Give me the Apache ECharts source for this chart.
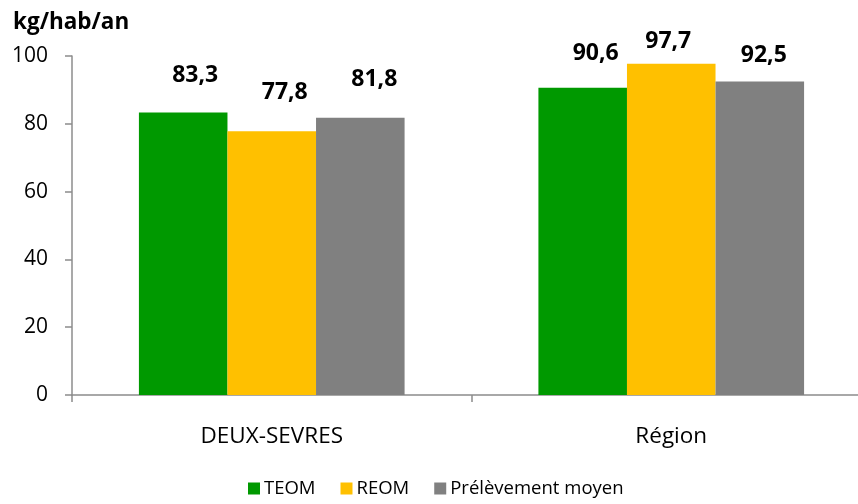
<!DOCTYPE html>
<html>
<head>
<meta charset="utf-8">
<script src="https://cdn.jsdelivr.net/npm/echarts@6/dist/echarts.min.js"></script>
<style>
  html, body { margin: 0; padding: 0; background: #fff; }
  #chart { width: 858px; height: 504px; }
</style>
</head>
<body>
<div id="chart"></div>
<script>
// Collection rate (kg per inhabitant per year) by funding mode
const categories = ['DEUX-SEVRES', 'Région'];
const seriesNames = ['TEOM', 'REOM', 'Prélèvement moyen'];
const teom = [83.3, 90.6];
const reom = [77.8, 97.7];
const prelevementMoyen = [81.8, 92.5];
const yTicks = [0, 20, 40, 60, 80, 100];

const colors = ['#009900', '#FFC000', '#808080'];
// value-label placement relative to the bar top: [dx, gap], per series / per category
const labelPlacement = [
  [[12, 26], [13, 23]],
  [[13, 27], [-3, 11]],
  [[14, 27], [4, 14]]
];

const FONT = '"Open Sans", "Noto Sans", sans-serif';
const fmt = v => v.toFixed(1).replace('.', ',');

function buildSeries(name, values, idx) {
  return {
    name: name,
    type: 'bar',
    barGap: '0%',
    barCategoryGap: '33.5%',
    itemStyle: { color: colors[idx] },
    data: values.map((v, i) => ({
      value: v,
      label: {
        show: true,
        position: 'top',
        distance: labelPlacement[idx][i][1],
        offset: [labelPlacement[idx][i][0], 0],
        formatter: p => fmt(p.value),
        fontFamily: FONT,
        fontWeight: 'bold',
        fontSize: 23,
        color: '#000'
      }
    }))
  };
}

const chart = echarts.init(document.getElementById('chart'), null, { renderer: 'canvas' });
chart.setOption({
  animation: false,
  backgroundColor: '#fff',
  title: {
    text: 'kg/hab/an',
    left: 8,
    top: 6,
    textStyle: { fontFamily: FONT, fontWeight: 'bold', fontSize: 22.5, color: '#000' }
  },
  legend: {
    bottom: 1,
    left: 243,
    itemWidth: 12,
    itemHeight: 12,
    itemGap: 25,
    icon: 'rect',
    data: seriesNames,
    textStyle: { fontFamily: FONT, fontSize: 18.5, color: '#000', padding: [0, 0, 0, -1] }
  },
  // the plot area runs past the right edge of the canvas, so the last category boundary is clipped
  grid: { left: 72, width: 799, top: 56, bottom: 109, outerBoundsMode: 'none', containLabel: false },
  xAxis: {
    type: 'category',
    data: categories,
    axisLine: { lineStyle: { color: '#8c8c8c', width: 1.5 } },
    axisTick: { show: true, length: 7, lineStyle: { color: '#8c8c8c', width: 1.5 } },
    axisLabel: { fontFamily: FONT, fontSize: 22.5, color: '#000', margin: 30 }
  },
  yAxis: {
    type: 'value',
    min: yTicks[0],
    max: yTicks[yTicks.length - 1],
    interval: yTicks[1] - yTicks[0],
    splitLine: { show: false },
    axisLine: { show: true, lineStyle: { color: '#8c8c8c', width: 1.5 } },
    axisTick: { show: true, length: 7, lineStyle: { color: '#8c8c8c', width: 1.5 } },
    axisLabel: { fontFamily: FONT, fontSize: 21, color: '#000', margin: 24 }
  },
  series: [
    buildSeries(seriesNames[0], teom, 0),
    buildSeries(seriesNames[1], reom, 1),
    buildSeries(seriesNames[2], prelevementMoyen, 2)
  ]
});
</script>
</body>
</html>
